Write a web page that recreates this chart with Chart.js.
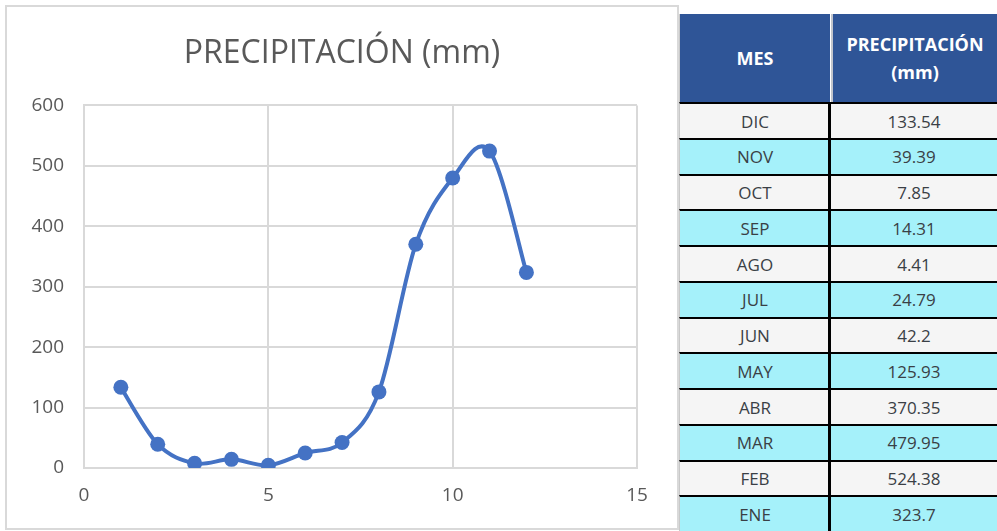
<!DOCTYPE html>
<html lang="es">
<head>
<meta charset="utf-8">
<title>PRECIPITACIÓN (mm)</title>
<script src="https://cdn.jsdelivr.net/npm/chart.js@4/dist/chart.umd.min.js"></script>
<style>
  html, body { margin: 0; padding: 0; background: #ffffff; }
  body { width: 997px; height: 531px; position: relative; overflow: hidden; font-family: "Open Sans", sans-serif; }
  #chartBox { position: absolute; left: 5px; top: 5px; width: 674px; height: 525px; border: 2px solid #d9d9d9; box-sizing: border-box; background: #fff; }
  #chartBox canvas { display: block; }
  #tabla { position: absolute; left: 679px; top: 14px; width: 330px; }
  .head { position: absolute; top: 0; height: 88px; background: #2f5597; color: #ffffff; font-weight: 700; font-size: 18px; display: flex; align-items: center; justify-content: center; text-align: center; line-height: 28px; box-sizing: border-box; }
  .cell { position: absolute; height: 36px; display: flex; align-items: center; justify-content: center; font-size: 17px; color: #3a3f45; box-sizing: border-box; border-top: 2.5px solid #000; }
</style>
</head>
<body>
<div id="chartBox"><canvas id="c" width="670" height="521"></canvas></div>
<div id="tabla"></div>
<script>
// Mes (x = 1..12) y precipitación en mm
const meses = ["DIC", "NOV", "OCT", "SEP", "AGO", "JUL", "JUN", "MAY", "ABR", "MAR", "FEB", "ENE"];
const posicion = [1, 2, 3, 4, 5, 6, 7, 8, 9, 10, 11, 12];
const precipitacion = [133.54, 39.39, 7.85, 14.31, 4.41, 24.79, 42.2, 125.93, 370.35, 479.95, 524.38, 323.7];
const titulo = "PRECIPITACIÓN (mm)";
const encabezados = ["MES", "PRECIPITACIÓN<br>(mm)"];

// ---- Tabla de datos ----
const tabla = document.getElementById("tabla");
const col1W = 151, col2L = 152;
const h1 = document.createElement("div");
h1.className = "head";
h1.style.left = "0px"; h1.style.width = col1W + "px";
h1.style.borderLeft = "1.5px solid #c8c8c8";
h1.innerHTML = encabezados[0];
tabla.appendChild(h1);
const h2 = document.createElement("div");
h2.className = "head";
h2.style.left = col2L + "px"; h2.style.width = "180px";
h2.style.borderLeft = "2px solid #c0c4cc";
h2.style.paddingRight = "14px";
h2.innerHTML = encabezados[1];
tabla.appendChild(h2);

const rowH = 35.75;
meses.forEach((m, i) => {
  const top = 88 + i * rowH;
  const bg = i % 2 === 0 ? "#f5f5f5" : "#a5f1fa";
  const a = document.createElement("div");
  a.className = "cell";
  a.style.left = "0px"; a.style.width = col1W + "px";
  a.style.top = top + "px"; a.style.background = bg;
  a.style.borderLeft = "1.5px solid #c8c8c8";
  a.textContent = m;
  tabla.appendChild(a);
  const b = document.createElement("div");
  b.className = "cell";
  b.style.left = (col2L - 3) + "px"; b.style.width = "183px";
  b.style.top = top + "px"; b.style.background = bg;
  b.style.borderLeft = "3px solid #000";
  b.style.paddingRight = "14px";
  b.textContent = String(precipitacion[i]);
  tabla.appendChild(b);
});

// ---- Gráfico de dispersión con línea suavizada ----
const puntos = posicion.map((x, i) => ({ x: x, y: precipitacion[i] }));
const gris = "#d9d9d9";
const texto = "#595959";

// Suavizado tipo Catmull-Rom uniforme: control = P ± (P(i+1) - P(i-1)) / 6
const suavizado = {
  id: "suavizado",
  beforeDatasetsDraw(chart) {
    const meta = chart.getDatasetMeta(0);
    const line = meta.dataset;
    line.updateControlPoints(chart.chartArea, "x");
    const pts = meta.data;
    const n = pts.length;
    for (let i = 0; i < n; i++) {
      const p = pts[i];
      const a = pts[Math.max(i - 1, 0)];
      const b = pts[Math.min(i + 1, n - 1)];
      const dx = (b.x - a.x) / 6;
      const dy = (b.y - a.y) / 6;
      p.cp1x = p.x - dx; p.cp1y = p.y - dy;
      p.cp2x = p.x + dx; p.cp2y = p.y + dy;
    }
  }
};

new Chart(document.getElementById("c"), {
  type: "scatter",
  data: {
    datasets: [{
      data: puntos,
      showLine: true,
      borderColor: "#4472c4",
      backgroundColor: "#4472c4",
      borderWidth: 4,
      pointRadius: 7.5,
      pointHoverRadius: 7.5,
      pointBorderWidth: 0,
      tension: 0.33,
      yAxisID: "y"
    }]
  },
  plugins: [suavizado],
  options: {
    responsive: false,
    animation: false,
    layout: { padding: 0 },
    plugins: {
      legend: { display: false },
      tooltip: { enabled: false },
      title: {
        display: true,
        text: titulo,
        color: texto,
        font: { family: "'Open Sans', sans-serif", size: 32, weight: 400, lineHeight: 1.2 },
        padding: { top: 28, bottom: 32 }
      }
    },
    scales: {
      x: {
        type: "linear",
        min: 0, max: 15,
        ticks: { stepSize: 5, color: texto, padding: 16, font: { family: "'Open Sans', sans-serif", size: 19 } },
        grid: { color: gris, lineWidth: 2, drawTicks: false },
        border: { color: gris, width: 2 },
        afterFit: s => { s.height = 60; }
      },
      y: {
        min: 0, max: 600,
        ticks: { stepSize: 100, color: texto, padding: 20, font: { family: "'Open Sans', sans-serif", size: 19 } },
        grid: { color: gris, lineWidth: 2, drawTicks: false },
        border: { color: gris, width: 2 },
        afterFit: s => { s.width = 77; }
      },
      // margen derecho del área de trazado (eje vacío)
      margen: {
        type: "linear",
        position: "right",
        display: true,
        ticks: { display: false },
        grid: { display: false, drawTicks: false },
        border: { display: false },
        afterFit: s => { s.width = 40; }
      }
    }
  }
});
</script>
</body>
</html>
